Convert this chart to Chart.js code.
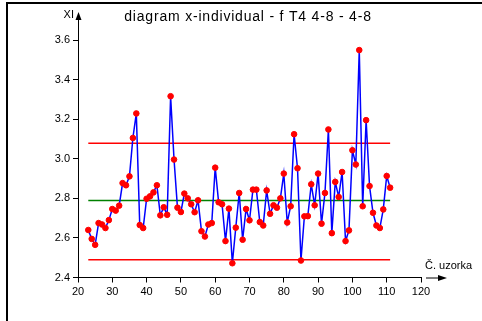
<!DOCTYPE html>
<html>
<head>
<meta charset="utf-8">
<script src="https://cdn.jsdelivr.net/npm/chart.js@4.4.1/dist/chart.umd.min.js"></script>
<style>
  html, body { margin: 0; padding: 0; background: #fff; }
  #wrap { position: relative; width: 482px; height: 321px; }
</style>
</head>
<body>
<div id="wrap"><canvas id="chart" width="482" height="321"></canvas></div>
<script>
// Podaci očitani sa slike (uzorci 23..111)
const firstSample = 23;
const xiValues = [
    2.64, 2.595, 2.565, 2.675, 2.668, 2.65, 2.69, 2.746, 2.738, 2.763,
    2.877, 2.866, 2.911, 3.105, 3.229, 2.665, 2.65, 2.798, 2.81, 2.83,
    2.866, 2.714, 2.755, 2.717, 3.316, 2.996, 2.753, 2.731, 2.824, 2.80,
    2.77, 2.73, 2.79, 2.634, 2.607, 2.668, 2.675, 2.955, 2.78, 2.77,
    2.584, 2.748, 2.472, 2.652, 2.827, 2.591, 2.746, 2.689, 2.844, 2.844,
    2.68, 2.663, 2.84, 2.722, 2.765, 2.753, 2.80, 2.925, 2.678, 2.76,
    3.124, 2.952, 2.486, 2.709, 2.71, 2.871, 2.765, 2.925, 2.672, 2.827,
    3.148, 2.624, 2.883, 2.807, 2.933, 2.584, 2.638, 3.043, 2.971, 3.549,
    2.76, 3.195, 2.862, 2.727, 2.663, 2.65, 2.744, 2.913, 2.854
];
const ucl = 3.078;
const centerLine = 2.789;
const lcl = 2.49;
const xTicks = [20, 30, 40, 50, 60, 70, 80, 90, 100, 110, 120];
const yTicks = [2.4, 2.6, 2.8, 3.0, 3.2, 3.4, 3.6];

const titleText = 'diagram x-individual - f T4 4-8 - 4-8';
const yLabel = 'XI';
const xLabel = 'Č. uzorka';

const FONT = '"Liberation Sans", Arial, sans-serif';

const points = xiValues.map((v, i) => ({ x: firstSample + i, y: v }));
const lastSample = firstSample + xiValues.length - 1;

function hLine(val) {
    return [{ x: firstSample, y: val }, { x: lastSample, y: val }];
}

// Okvir, naslov, strelice i oznake osi
const decorPlugin = {
    id: 'decor',
    afterDraw(chart) {
        const ctx = chart.ctx;
        const area = chart.chartArea;
        ctx.save();

        // okvir
        ctx.strokeStyle = '#000';
        ctx.lineWidth = 2;
        ctx.beginPath();
        ctx.moveTo(7, 321);
        ctx.lineTo(7, 3);
        ctx.lineTo(482, 3);
        ctx.stroke();

        // y strelica
        ctx.lineWidth = 1;
        ctx.beginPath();
        ctx.moveTo(area.left + 0.5, area.top);
        ctx.lineTo(area.left + 0.5, 16);
        ctx.stroke();
        ctx.fillStyle = '#000';
        ctx.beginPath();
        ctx.moveTo(area.left + 0.5, 12);
        ctx.lineTo(area.left - 2.5, 20);
        ctx.lineTo(area.left + 3.5, 20);
        ctx.closePath();
        ctx.fill();

        // x strelica
        const yb = area.bottom + 0.5;
        ctx.beginPath();
        ctx.moveTo(area.right + 5, yb);
        ctx.lineTo(area.right + 20, yb);
        ctx.stroke();
        ctx.beginPath();
        ctx.moveTo(area.right + 26, yb);
        ctx.lineTo(area.right + 17, yb - 3);
        ctx.lineTo(area.right + 17, yb + 3);
        ctx.closePath();
        ctx.fill();

        // tekstovi
        ctx.font = '14px ' + FONT;
        ctx.letterSpacing = '0.8px';
        ctx.textAlign = 'center';
        ctx.textBaseline = 'middle';
        ctx.fillText(titleText, 248, 17);
        ctx.letterSpacing = '0px';

        ctx.font = '11px ' + FONT;
        ctx.textAlign = 'right';
        ctx.fillText(yLabel, area.left - 4, 15);

        ctx.textAlign = 'left';
        ctx.fillText(xLabel, area.right + 4, 266);

        ctx.restore();
    }
};

new Chart(document.getElementById('chart'), {
    type: 'line',
    data: {
        datasets: [
            {
                label: 'XI',
                data: points,
                borderColor: '#0000ff',
                borderWidth: 1.5,
                tension: 0,
                pointRadius: 2.8,
                pointBackgroundColor: '#ff0000',
                pointBorderColor: '#ff0000',
                pointBorderWidth: 1,
                order: 0
            },
            {
                label: 'UCL',
                data: hLine(ucl),
                borderColor: '#ff0000',
                borderWidth: 1.5,
                pointRadius: 0,
                order: 1
            },
            {
                label: 'CL',
                data: hLine(centerLine),
                borderColor: '#008000',
                borderWidth: 1.5,
                pointRadius: 0,
                order: 1
            },
            {
                label: 'LCL',
                data: hLine(lcl),
                borderColor: '#ff0000',
                borderWidth: 1.5,
                pointRadius: 0,
                order: 1
            }
        ]
    },
    options: {
        responsive: false,
        animation: false,
        layout: { padding: { left: 0, top: 40, right: 61, bottom: 0 } },
        plugins: {
            legend: { display: false },
            tooltip: { enabled: false }
        },
        scales: {
            x: {
                type: 'linear',
                min: 20,
                max: 120,
                afterFit(scale) { scale.height = 43.5; },
                afterBuildTicks(scale) { scale.ticks = xTicks.map(v => ({ value: v })); },
                ticks: { color: '#000', font: { size: 11, family: FONT }, padding: 3, maxRotation: 0 },
                grid: { display: true, drawOnChartArea: false, drawTicks: true, tickLength: 5, color: '#000' },
                border: { display: true, color: '#000', width: 1 }
            },
            y: {
                min: 2.4,
                max: 3.6,
                afterFit(scale) { scale.width = 78; },
                afterBuildTicks(scale) { scale.ticks = yTicks.map(v => ({ value: v })); },
                ticks: {
                    color: '#000',
                    font: { size: 11, family: FONT },
                    padding: 3,
                    callback: v => Number(v).toFixed(1)
                },
                grid: { display: true, drawOnChartArea: false, drawTicks: true, tickLength: 5, color: '#000' },
                border: { display: true, color: '#000', width: 1 }
            }
        }
    },
    plugins: [decorPlugin]
});
</script>
</body>
</html>
